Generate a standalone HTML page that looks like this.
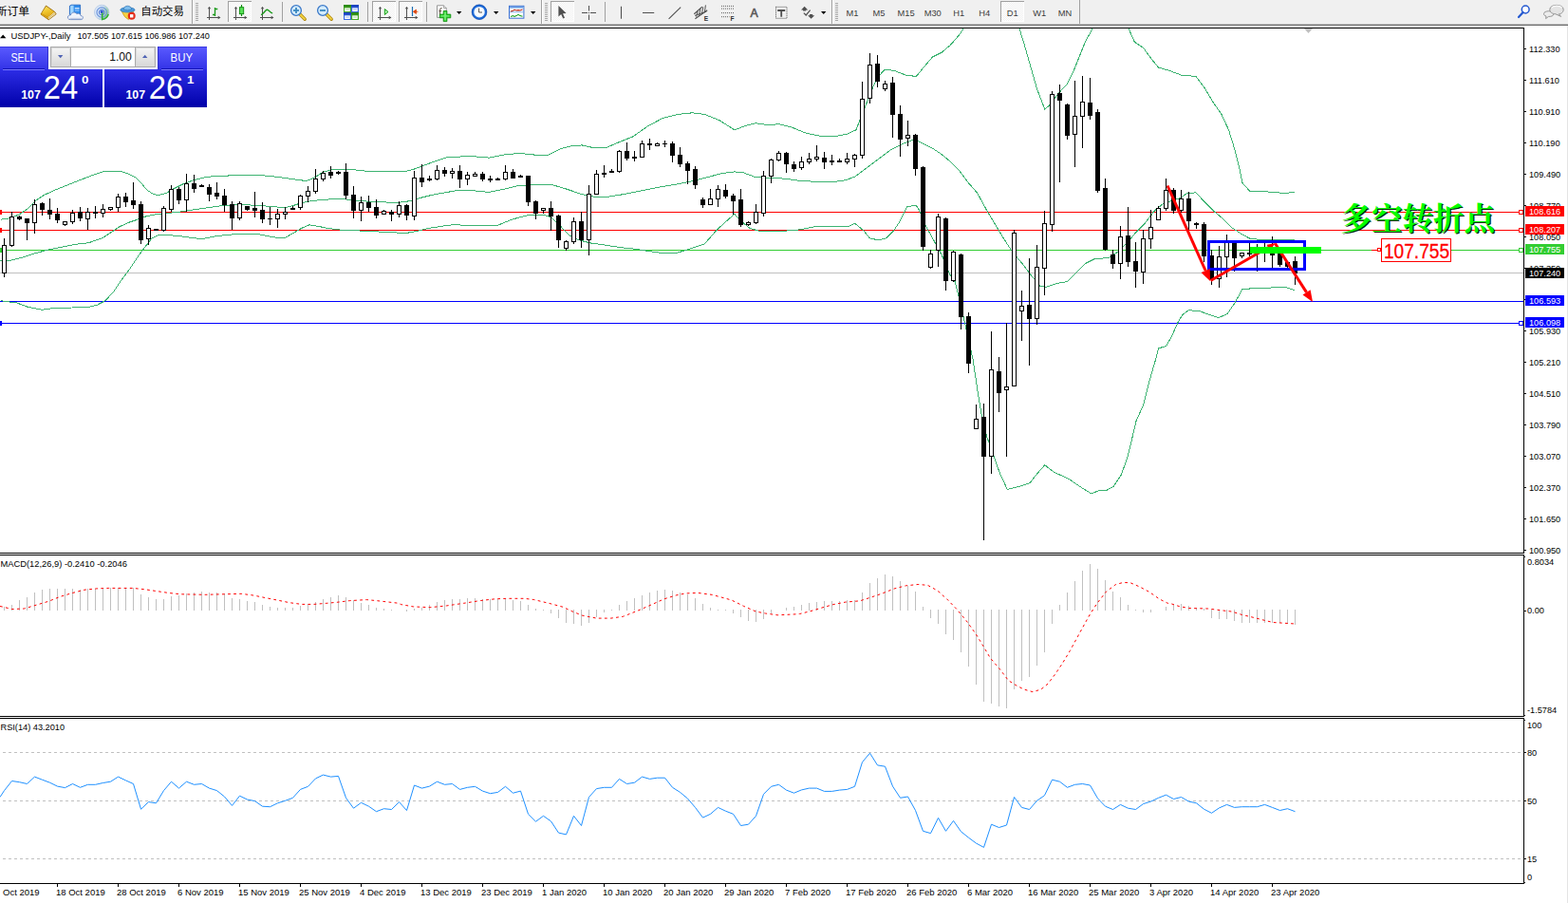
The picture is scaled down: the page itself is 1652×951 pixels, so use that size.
<!DOCTYPE html>
<html><head><meta charset="utf-8"><title>USDJPY Daily</title>
<style>
html,body{margin:0;padding:0;background:#fff;}
body{width:1652px;height:951px;overflow:hidden;font-family:"Liberation Sans",sans-serif;}
svg{display:block;position:absolute;left:0;top:0;}
text{font-family:"Liberation Sans",sans-serif;}
</style></head>
<body>
<svg width="1652" height="951" viewBox="0 0 1652 951">
<defs>
<clipPath id="cpMain"><rect x="0" y="30" width="1605" height="552"/></clipPath>
<linearGradient id="gBtn" x1="0" y1="0" x2="0" y2="1"><stop offset="0" stop-color="#5a5aff"/><stop offset="1" stop-color="#3232e6"/></linearGradient>
<linearGradient id="gPrice" x1="0" y1="0" x2="0" y2="1"><stop offset="0" stop-color="#2d2de6"/><stop offset="1" stop-color="#0000a8"/></linearGradient>
<pattern id="pChk" width="2" height="2" patternUnits="userSpaceOnUse"><rect width="2" height="2" fill="#f0f0f0"/><rect width="1" height="1" fill="#fff"/><rect x="1" y="1" width="1" height="1" fill="#fff"/></pattern>
<linearGradient id="gSpin" x1="0" y1="0" x2="0" y2="1"><stop offset="0" stop-color="#f4f4f4"/><stop offset="1" stop-color="#d8d8d8"/></linearGradient>
</defs>
<rect x="0" y="0" width="1652" height="951" fill="#fff"/>
<!-- toolbar background -->
<rect x="0" y="0" width="1652" height="25" fill="#f0f0f0"/>
<rect x="0" y="25" width="1652" height="1" fill="#bdbdbd"/>
<rect x="0" y="26" width="1652" height="1" fill="#6a6a6a"/>
<defs><linearGradient id="gBook" x1="0.2" y1="0" x2="0.6" y2="1"><stop offset="0" stop-color="#fbe468"/><stop offset="0.5" stop-color="#efc42c"/><stop offset="1" stop-color="#dca416"/></linearGradient></defs><g><path d="M48.5 6L57.6 12.4L59.2 14.8L51.2 20.8L43 15Z" fill="#c48c0c" stroke="#94660a" stroke-width="0.8" stroke-linejoin="round"/><path d="M57.2 12.8L58.7 14.8L51.3 20.2L50.4 18.2Z" fill="#f6e8b8"/><path d="M57.9 13.8L50.8 19.2" stroke="#b08828" stroke-width="0.5"/><path d="M48.6 6.7L57 12.6L50.4 17.9L43.9 14Z" fill="url(#gBook)"/><path d="M43.8 14.4L50.4 18.4L51 20.2L43.4 15.4Z" fill="#d8a21a"/></g>
<g><path d="M73.4 6.2L75.2 5.2H84.6V15.4H73.4Z" fill="#2f8cec" stroke="#1c62c0" stroke-width="0.8"/><path d="M74 6.6L75.4 5.8H77.6V15H74Z" fill="#9cd4ff"/><rect x="78.8" y="8.2" width="4.8" height="1.2" fill="#eef6ff"/><rect x="78.8" y="10.6" width="4.8" height="0.9" fill="#b4d8ff"/><path d="M74.2 20.6C71.6 20.6 70.8 18.4 71.8 17C72.4 16 73.6 15.8 74.4 16C74.8 12.8 79.2 12 80.8 14.6C82.6 13.6 85 14.6 85 16.6C87.2 16.4 88 18.6 87 19.8C86.6 20.4 85.8 20.6 85.2 20.6Z" fill="#eef3fb" stroke="#6c88c0" stroke-width="0.9"/><path d="M73.6 19.4H85.8" stroke="#c0cce4" stroke-width="1.1"/></g>
<defs><linearGradient id="gRad" x1="0" y1="0" x2="1" y2="0.4"><stop offset="0" stop-color="#e8f0fc"/><stop offset="0.55" stop-color="#cfe0f4"/><stop offset="1" stop-color="#8cd08c"/></linearGradient></defs><g fill="none"><circle cx="107.2" cy="13" r="7.7" fill="url(#gRad)" stroke="#b4c8e4" stroke-width="0.9"/><circle cx="107.2" cy="13" r="5.2" stroke="#6c94dc" stroke-width="1.2"/><circle cx="107.2" cy="13" r="2.8" stroke="#4c74d4" stroke-width="1"/><circle cx="107.2" cy="12.6" r="1.5" fill="#2448d0"/><path d="M107.7 13.4V20.6Q112.6 19.6 114.2 15" stroke="#30b030" stroke-width="1.5"/></g>
<g><path d="M128 11.4L141 11.4L135.4 20.6Q131 19 128 11.4Z" fill="#f6d244" stroke="#c49410" stroke-width="0.7"/><ellipse cx="134.4" cy="10.4" rx="7.6" ry="2.6" fill="#4c9cdc" stroke="#2c74b4" stroke-width="0.7"/><path d="M130.2 10C130.2 5 138.6 5 138.6 10Q134.4 11.6 130.2 10Z" fill="#7cbcec" stroke="#2c74b4" stroke-width="0.7"/><circle cx="138.7" cy="16.8" r="4" fill="#e42c18"/><rect x="137" y="15.1" width="3.4" height="3.4" fill="#fff"/></g>
<rect x="202" y="0" width="1" height="25" fill="#a0a0a0"/><rect x="203" y="0" width="1" height="25" fill="#fff"/>
<rect x="206" y="3" width="3" height="1" fill="#a8a8a8"/>
<rect x="206" y="5" width="3" height="1" fill="#a8a8a8"/>
<rect x="206" y="7" width="3" height="1" fill="#a8a8a8"/>
<rect x="206" y="9" width="3" height="1" fill="#a8a8a8"/>
<rect x="206" y="11" width="3" height="1" fill="#a8a8a8"/>
<rect x="206" y="13" width="3" height="1" fill="#a8a8a8"/>
<rect x="206" y="15" width="3" height="1" fill="#a8a8a8"/>
<rect x="206" y="17" width="3" height="1" fill="#a8a8a8"/>
<rect x="206" y="19" width="3" height="1" fill="#a8a8a8"/>
<rect x="206" y="21" width="3" height="1" fill="#a8a8a8"/>
<path d="M220.5 7.5V21 M218 18.5H232" stroke="#505050" stroke-width="1" fill="none"/>
<path d="M218.7 9.3L220.5 7L222.3 9.3Z M229.7 16.7L232.5 18.5L229.7 20.3Z" fill="#505050"/>
<path d="M226.5 8V17 M226.5 9.5H229.3 M224 15.5H226.5" stroke="#1a9a1a" stroke-width="1.3" fill="none"/>
<rect x="240" y="1" width="25" height="22" fill="url(#pChk)"/>
<rect x="240" y="1" width="25" height="1" fill="#a0a0a0"/><rect x="240" y="1" width="1" height="22" fill="#a0a0a0"/>
<rect x="264" y="2" width="1" height="21" fill="#fff"/><rect x="241" y="22" width="24" height="1" fill="#fff"/>
<path d="M248.5 7.5V21 M246 18.5H260" stroke="#505050" stroke-width="1" fill="none"/>
<path d="M246.7 9.3L248.5 7L250.3 9.3Z M257.7 16.7L260.5 18.5L257.7 20.3Z" fill="#505050"/>
<path d="M254.5 5V17" stroke="#0a8a0a" stroke-width="1.2"/><rect x="252.4" y="7.7" width="4.3" height="7" fill="#58e058" stroke="#0a8a0a" stroke-width="0.9"/>
<path d="M276.5 7.5V21 M274 18.5H288" stroke="#505050" stroke-width="1" fill="none"/>
<path d="M274.7 9.3L276.5 7L278.3 9.3Z M285.7 16.7L288.5 18.5L285.7 20.3Z" fill="#505050"/>
<path d="M275.2 15.8Q278.5 13 280 11Q281.3 9.6 283 11Q285.5 13.5 287.2 14" stroke="#1a9a1a" stroke-width="1.3" fill="none"/>
<rect x="297" y="2" width="1" height="21" fill="#a0a0a0"/>
<path d="M315.8 14.8L321.2 20.2" stroke="#b08810" stroke-width="3.4" stroke-linecap="round"/><path d="M316 15L321 20" stroke="#f0d040" stroke-width="1.8" stroke-linecap="round"/>
<circle cx="312" cy="11" r="5.4" fill="#d4ecfc" stroke="#3a78c8" stroke-width="1.3"/>
<path d="M309 11H315" stroke="#3a88c0" stroke-width="1.8"/>
<path d="M312 8V14" stroke="#3a88c0" stroke-width="1.8"/>
<path d="M343.8 14.8L349.2 20.2" stroke="#b08810" stroke-width="3.4" stroke-linecap="round"/><path d="M344 15L349 20" stroke="#f0d040" stroke-width="1.8" stroke-linecap="round"/>
<circle cx="340" cy="11" r="5.4" fill="#d4ecfc" stroke="#3a78c8" stroke-width="1.3"/>
<path d="M337 11H343" stroke="#3a88c0" stroke-width="1.8"/>
<rect x="362" y="5" width="8" height="8" fill="#48a828"/><rect x="362" y="5" width="8" height="2.6" fill="#2c8c14"/><rect x="363.2" y="8.4" width="5.6" height="3.6" fill="#fff"/><rect x="364.2" y="9.6" width="3.6" height="0.9" fill="#48a828" opacity="0.55"/>
<rect x="370" y="5" width="8" height="8" fill="#3868e0"/><rect x="370" y="5" width="8" height="2.6" fill="#1c44c0"/><rect x="371.2" y="8.4" width="5.6" height="3.6" fill="#fff"/><rect x="372.2" y="9.6" width="3.6" height="0.9" fill="#3868e0" opacity="0.55"/>
<rect x="362" y="13" width="8" height="8" fill="#3868e0"/><rect x="362" y="13" width="8" height="2.6" fill="#1c44c0"/><rect x="363.2" y="16.4" width="5.6" height="3.6" fill="#fff"/><rect x="364.2" y="17.6" width="3.6" height="0.9" fill="#3868e0" opacity="0.55"/>
<rect x="370" y="13" width="8" height="8" fill="#48a828"/><rect x="370" y="13" width="8" height="2.6" fill="#2c8c14"/><rect x="371.2" y="16.4" width="5.6" height="3.6" fill="#fff"/><rect x="372.2" y="17.6" width="3.6" height="0.9" fill="#48a828" opacity="0.55"/>
<rect x="387" y="2" width="1" height="21" fill="#a0a0a0"/>
<rect x="392" y="1" width="25" height="22" fill="url(#pChk)"/>
<rect x="392" y="1" width="25" height="1" fill="#a0a0a0"/><rect x="392" y="1" width="1" height="22" fill="#a0a0a0"/>
<rect x="416" y="2" width="1" height="21" fill="#fff"/><rect x="393" y="22" width="24" height="1" fill="#fff"/>
<path d="M400.5 7.5V21 M398 18.5H412" stroke="#505050" stroke-width="1" fill="none"/>
<path d="M398.7 9.3L400.5 7L402.3 9.3Z M409.7 16.7L412.5 18.5L409.7 20.3Z" fill="#505050"/>
<path d="M405.3 9.5L409 12.5L405.3 15.5Z" fill="#a8f0a8" stroke="#18a018" stroke-width="1"/>
<rect x="420" y="1" width="25" height="22" fill="url(#pChk)"/>
<rect x="420" y="1" width="25" height="1" fill="#a0a0a0"/><rect x="420" y="1" width="1" height="22" fill="#a0a0a0"/>
<rect x="444" y="2" width="1" height="21" fill="#fff"/><rect x="421" y="22" width="24" height="1" fill="#fff"/>
<path d="M428.5 7.5V21 M426 18.5H440" stroke="#505050" stroke-width="1" fill="none"/>
<path d="M426.7 9.3L428.5 7L430.3 9.3Z M437.7 16.7L440.5 18.5L437.7 20.3Z" fill="#505050"/>
<path d="M434.5 7V17" stroke="#1c6cb0" stroke-width="1.2"/><path d="M435.3 12.3L438.4 10.2V14.4Z M438 12.3H440.4" fill="#e04810" stroke="#e04810" stroke-width="0.9"/>
<rect x="449" y="2" width="1" height="21" fill="#a0a0a0"/>
<path d="M460.5 5.8H467.5L470.2 8.5V18.4H460.5Z" fill="#fff" stroke="#8c8c8c" stroke-width="0.9"/><path d="M467.5 5.8V8.5H470.2" fill="#e8e8e8" stroke="#8c8c8c" stroke-width="0.7"/><path d="M465.6 8.6Q463.6 8.2 463.6 10.4V15.6 M462.4 11.6H465.2" stroke="#504030" stroke-width="0.9" fill="none"/>
<path d="M467.2 11.5H470.9V15.1H474.8V18.8H470.9V22.6H467.2V18.8H463.3V15.1H467.2Z" fill="#28cc28" stroke="#0c8c0c" stroke-width="0.8"/><path d="M468.2 12.6H469.8V16.2H473.6V17.6H469.8V21.4H468.2V17.6H464.4V16.2H468.2Z" fill="#90f890" opacity="0.8"/>
<polygon points="481,12 486.4,12 483.7,15" fill="#000"/>
<circle cx="505" cy="12.7" r="6.9" fill="#e4f0fc" stroke="#1a68d8" stroke-width="2.2"/><circle cx="505" cy="12.7" r="4.6" fill="#fafcff"/><circle cx="505" cy="12.7" r="7.9" fill="none" stroke="#0c3c98" stroke-width="0.5"/><path d="M504.6 8.6V13H508" stroke="#404040" stroke-width="0.9" fill="none"/>
<polygon points="520,12 525.4,12 522.7,15" fill="#000"/>
<rect x="536.5" y="6.3" width="15.4" height="12.9" fill="#fff" stroke="#3a70d0" stroke-width="1"/><rect x="537" y="6.8" width="14.4" height="1.8" fill="#6ca0e8"/><rect x="537" y="12.4" width="14.4" height="0.8" fill="#6ca0e8"/><path d="M538 12L540.5 11.2L542 10.3L544 11L546 10.6L548 11L550.5 10" stroke="#b82818" stroke-width="1.1" fill="none"/><path d="M538 17.5L540.5 16.6L542 17.4L544 16.6L546 15.4L548 16.6L550.5 17.3" stroke="#18a018" stroke-width="1.1" fill="none"/>
<polygon points="559,12 564.4,12 561.7,15" fill="#000"/>
<rect x="570" y="0" width="1" height="25" fill="#a0a0a0"/><rect x="571" y="0" width="1" height="25" fill="#fff"/>
<rect x="574" y="3" width="3" height="1" fill="#a8a8a8"/>
<rect x="574" y="5" width="3" height="1" fill="#a8a8a8"/>
<rect x="574" y="7" width="3" height="1" fill="#a8a8a8"/>
<rect x="574" y="9" width="3" height="1" fill="#a8a8a8"/>
<rect x="574" y="11" width="3" height="1" fill="#a8a8a8"/>
<rect x="574" y="13" width="3" height="1" fill="#a8a8a8"/>
<rect x="574" y="15" width="3" height="1" fill="#a8a8a8"/>
<rect x="574" y="17" width="3" height="1" fill="#a8a8a8"/>
<rect x="574" y="19" width="3" height="1" fill="#a8a8a8"/>
<rect x="574" y="21" width="3" height="1" fill="#a8a8a8"/>
<rect x="580" y="1" width="25" height="22" fill="url(#pChk)"/>
<rect x="580" y="1" width="25" height="1" fill="#a0a0a0"/><rect x="580" y="1" width="1" height="22" fill="#a0a0a0"/>
<rect x="604" y="2" width="1" height="21" fill="#fff"/><rect x="581" y="22" width="24" height="1" fill="#fff"/>
<path d="M588.4 5.9V17.6L591.2 15L593.2 19.6L595 18.8L593 14.3L596.6 14.1Z" fill="#505050"/>
<path d="M613 13.5H619 M622 13.5H628 M620.5 6V11.5 M620.5 15.5V21" stroke="#505050" stroke-width="1" fill="none"/><rect x="620" y="13" width="1" height="1" fill="#505050"/>
<rect x="637" y="2" width="1" height="21" fill="#a0a0a0"/>
<path d="M654.5 6.8V19.8 M677 13.5H689.2 M704.6 19.8L717.2 7.7" stroke="#505050" stroke-width="1.1" fill="none"/>
<path d="M731.3 14.7L739.8 7.1 M732.4 19.7L745.2 10.7" stroke="#505050" stroke-width="1.2" fill="none"/><path d="M733.6 17.6L735.2 11.6 M736.4 16.4L738 9.2 M739.4 14.4L740.8 7.4 M742.4 12.8L743.4 5.4 M732 16.4L744.4 12.2" stroke="#505050" stroke-width="1" fill="none"/>
<text x="741.8" y="21.9" font-size="6.6" font-weight="bold" fill="#303030">E</text>
<path d="M760 6.4H773" stroke="#505050" stroke-width="0.9" stroke-dasharray="1,1" fill="none"/>
<path d="M760 9.1H773" stroke="#505050" stroke-width="0.9" stroke-dasharray="1,1" fill="none"/>
<path d="M760 13.6H773" stroke="#505050" stroke-width="0.9" stroke-dasharray="1,1" fill="none"/>
<path d="M760 17.7H768.5" stroke="#505050" stroke-width="0.9" stroke-dasharray="1,1" fill="none"/>
<text x="769.6" y="21.9" font-size="6.6" font-weight="bold" fill="#303030">F</text>
<text x="790.4" y="17.8" font-size="12.2" fill="#585858" stroke="#585858" stroke-width="0.6">A</text>
<rect x="817.5" y="7.3" width="11.5" height="12" fill="none" stroke="#505050" stroke-width="1" stroke-dasharray="1,1"/>
<path d="M819.2 11H827.2 M823.2 11V17.8" stroke="#505050" stroke-width="1.8" fill="none"/>
<path d="M844 10.4L847.6 6.8L851.2 10.4H849.2V11.6H846V10.4Z" fill="#505050"/><path d="M846.8 13.6L849.2 16L853.6 10.6" stroke="#505050" stroke-width="1.2" fill="none"/><path d="M851 16.2L854.6 19.8L858.2 16.2H856.2V15H853V16.2Z" fill="#505050"/>
<polygon points="865,12 870.4,12 867.7,15" fill="#000"/>
<rect x="876" y="0" width="1" height="25" fill="#a0a0a0"/><rect x="877" y="0" width="1" height="25" fill="#fff"/>
<rect x="880" y="3" width="3" height="1" fill="#a8a8a8"/>
<rect x="880" y="5" width="3" height="1" fill="#a8a8a8"/>
<rect x="880" y="7" width="3" height="1" fill="#a8a8a8"/>
<rect x="880" y="9" width="3" height="1" fill="#a8a8a8"/>
<rect x="880" y="11" width="3" height="1" fill="#a8a8a8"/>
<rect x="880" y="13" width="3" height="1" fill="#a8a8a8"/>
<rect x="880" y="15" width="3" height="1" fill="#a8a8a8"/>
<rect x="880" y="17" width="3" height="1" fill="#a8a8a8"/>
<rect x="880" y="19" width="3" height="1" fill="#a8a8a8"/>
<rect x="880" y="21" width="3" height="1" fill="#a8a8a8"/>
<rect x="1054" y="1" width="25" height="22" fill="url(#pChk)"/>
<rect x="1054" y="1" width="25" height="1" fill="#a0a0a0"/><rect x="1054" y="1" width="1" height="22" fill="#a0a0a0"/>
<rect x="1078" y="2" width="1" height="21" fill="#fff"/><rect x="1055" y="22" width="24" height="1" fill="#fff"/>
<text x="891.5" y="16.9" font-size="9.3" fill="#3c3c3c">M1</text>
<text x="919.5" y="16.9" font-size="9.3" fill="#3c3c3c">M5</text>
<text x="945.5" y="16.9" font-size="9.3" fill="#3c3c3c">M15</text>
<text x="973.7" y="16.9" font-size="9.3" fill="#3c3c3c">M30</text>
<text x="1004.3" y="16.9" font-size="9.3" fill="#3c3c3c">H1</text>
<text x="1031.3" y="16.9" font-size="9.3" fill="#3c3c3c">H4</text>
<text x="1060.8" y="16.9" font-size="9.3" fill="#3c3c3c">D1</text>
<text x="1088.2" y="16.9" font-size="9.3" fill="#3c3c3c">W1</text>
<text x="1114.8" y="16.9" font-size="9.3" fill="#3c3c3c">MN</text>
<rect x="1137" y="0" width="1" height="25" fill="#a0a0a0"/>
<circle cx="1607.2" cy="10" r="3.9" fill="#fff" stroke="#2458d0" stroke-width="1.5"/><path d="M1604.6 13L1600 18" stroke="#2458d0" stroke-width="2.2" stroke-linecap="round"/>
<path d="M1626.5 14.6C1626.5 10.8 1637 10.8 1637 14.6C1637 17 1633.6 17.6 1631.6 17.4L1628.6 19.6L1629 17C1627.4 16.6 1626.5 15.8 1626.5 14.6Z" fill="#ececec" stroke="#8c8c8c" stroke-width="0.9"/><path d="M1632.8 10C1632.8 3.8 1647.2 3.8 1647.2 10C1647.2 13.6 1644 14.8 1642.4 14.8L1644.6 17.4L1639 14.8C1635.4 14.6 1632.8 13 1632.8 10Z" fill="#e4e4e4" stroke="#8c8c8c" stroke-width="0.9"/><path d="M1635 8.4C1636 5.4 1644 5.2 1645.4 8.2" stroke="#fafafa" stroke-width="1.2" fill="none"/>
<rect x="0" y="29" width="1606" height="1" fill="#000" />
<rect x="1605" y="29" width="1" height="554" fill="#000" />
<rect x="0" y="582" width="1606" height="1" fill="#000" />
<rect x="0" y="584" width="1606" height="1" fill="#000" />
<rect x="1605" y="584" width="1" height="171" fill="#000" />
<rect x="0" y="754" width="1606" height="1" fill="#000" />
<rect x="0" y="756" width="1606" height="1" fill="#000" />
<rect x="1605" y="756" width="1" height="175" fill="#000" />
<rect x="0" y="930" width="1606" height="1" fill="#000" />
<rect x="1651" y="27" width="1" height="924" fill="#e4e4e4" />
<rect x="0" y="287" width="1605" height="1" fill="#c0c0c0" />
<rect x="0" y="223" width="1605" height="1" fill="#ff0000" />
<rect x="0" y="242" width="1605" height="1" fill="#ff0000" />
<rect x="0" y="263" width="1605" height="1" fill="#32cd32" />
<rect x="0" y="317" width="1605" height="1" fill="#0000ff" />
<rect x="0" y="340" width="1605" height="1" fill="#0000ff" />
<g clip-path="url(#cpMain)" shape-rendering="crispEdges">
<polyline points="0.5,231.3 12.1,229.5 20.8,225.5 29.6,219.7 38.3,210.9 47,205.1 58.6,199.9 73.1,194.1 87.7,188.3 99.3,183.9 108,181 116.7,180.1 125.4,180.1 134.2,182.5 142.9,186.8 148.7,192.6 154.5,199.9 160.3,203.7 166.1,205.7 174.8,203.7 183.6,198.4 192.3,194.1 203.9,189.7 215.5,186.8 227.1,185.4 247.5,184.8 276.5,184.8 291.1,186.2 305.6,188.3 323,190.6 331.7,186.8 340.5,181 349.2,179 357.9,178.1 366.6,178.1 375.3,179 386.9,180.4 407.3,180.4 427.6,180.4 436.3,178.1 448,173.7 459.6,169.4 471.2,165.6 480.5,165.2 496.3,164.5 515.2,166.1 531,163 546.7,161.4 562.5,163 578.3,163 590.9,156.6 600.3,154.1 613,152.9 625.6,155.7 638.2,155.7 650.8,150.3 666.6,144 682.3,133 698.1,124.5 713.9,120.4 729.6,118.8 742.3,120.4 758,126.7 773.8,136.8 786.4,132.1 795.9,129.8 808.5,131.4 821.1,130.8 833.7,133.9 849.5,140.3 865.3,143.4 881,143.4 893.6,140.9 900.5,137.3 901.5,137.7 910,116.8 916.3,99.5 924.2,82.1 932,73.3 941.5,74.2 954.1,79 965.2,80.5 973,71.1 982.5,60 992,55.3 1001.4,47.4 1010.9,36.4 1017.2,26.9 1026.6,9.6 1045.6,-6.2 1064.5,6.4 1074,30.1 1080.3,50.6 1086.6,72.7 1092.9,94.7 1100.8,115.2 1105.5,111.1 1115,98.5 1124.4,88.4 1130.7,75.8 1137,60 1143.3,44.3 1152.8,26.9 1162.3,12.7 1171.7,3.3 1181.2,12.7 1189.1,30.1 1195.4,44.3 1204.8,50.6 1212.7,61.6 1220.6,71.1 1231.6,74.2 1244.3,79 1260,80.5 1269.5,93.2 1278.9,108.9 1286.8,120 1294.7,137.3 1301,157.8 1305.8,176.7 1308.9,192.5 1316.8,201.3 1335.7,202 1354.6,203.5 1364.1,202" fill="none" stroke="#3cb371" stroke-width="1" />
<polyline points="0.5,274.9 12.1,274 23.7,271.1 35.4,267.3 49.9,263.2 64.4,260.3 79,257.4 93.5,255.7 108,250.7 116.7,244.9 125.4,239.1 134.2,234.8 142.9,231.9 151.6,228.4 163.2,226 174.8,224.6 189.4,223.1 203.9,220.8 218.4,218.8 232.9,216.7 247.5,215.9 262,215.9 276.5,216.7 291.1,217.9 299.8,218.8 308.5,216.7 317.2,213.8 328.8,211.5 343.4,210.1 357.9,209.5 366.6,210.1 378.2,211.5 392.8,212.4 407.3,213 421.8,213 433.4,211.5 442.1,208.6 453.8,205.7 465.4,203.4 480.5,200.8 499.4,200.8 515.2,202.4 531,199.2 546.7,195.4 562.5,194.5 581.4,194.5 597.2,199.2 613,204.6 625.6,207.1 641.3,207.1 657.1,204.6 676,200.8 695,197 713.9,193.9 729.6,190.7 745.4,186.6 761.2,182.5 773.8,180.9 783.3,181.9 795.9,186.6 811.6,187.2 827.4,188.2 843.2,190.4 858.9,191.3 874.7,192 890.5,189.8 900.5,186.2 913.1,176.7 925.7,167.3 938.3,157.8 951,151.5 963.6,146.8 973,151.5 982.5,156.2 992,162.5 1001.4,170.4 1010.9,179.9 1020.3,192.5 1029.8,203.5 1039.3,220.9 1048.7,236.6 1058.2,252.4 1067.6,266.6 1077.1,277.6 1086.6,290.3 1096,301.3 1102.3,302.2 1115,298.1 1124.4,296.6 1133.9,287.1 1143.3,277.6 1152.8,272.9 1168.6,271.3 1178,265 1187.5,255.6 1197,244.5 1206.4,235.1 1215.9,222.5 1225.3,214.6 1234.8,211.4 1244.3,208.3 1250.6,203.5 1260,202.9 1269.5,213 1278.9,222.5 1288.4,230.3 1297.9,239.8 1307.3,246.1 1316.8,251.2 1329.4,252.7 1364.1,252.7" fill="none" stroke="#3cb371" stroke-width="1" />
<polyline points="0.5,316.7 17.9,319 29.6,323.4 44.1,326.3 58.6,324.3 76,324 93.5,323.4 102.2,321.3 110.9,316.7 119.6,307.4 128.3,294.3 137.1,282.7 145.8,269.6 154.5,258 160.3,250.7 166.1,247.8 174.8,247.3 189.4,248.7 203.9,250.7 212.6,251.6 224.2,249.3 238.8,247.3 253.3,246.4 270.7,246.4 282.3,248.7 291.1,250.2 299.8,250.7 308.5,245.8 317.2,240.6 325.9,236.8 334.6,238.2 346.3,240.6 357.9,242 369.5,242 384,243.5 401.5,244.1 416,244.9 427.6,245.5 439.2,243.5 450.9,240.6 465.4,238.2 480.5,236.4 493.1,238 508.9,237.1 524.7,237.1 540.4,230.8 556.2,226.7 572,226 581.4,229.2 590.9,238.6 600.3,248.1 609.8,252.8 622.4,256 638.2,258.2 654,260.7 669.7,262.3 685.5,264.8 701.3,267 713.9,266.1 726.5,262.3 742.3,256.9 754.9,242.4 764.3,233.9 773.8,225.4 780.1,232.3 789.6,240.2 802.2,244 824.3,243.4 843.2,241.8 858.9,238.6 877.9,238.6 893.6,238.6 900.5,235.1 910,243 916.3,250.8 925.7,253 933.6,250.8 941.5,243 947.8,233.5 955.7,217.7 965.2,216.1 968.3,220.9 974.6,236.6 982.5,250.8 992,268.2 1001.4,290.3 1006.2,296.8 1012.5,322 1018.8,350.4 1025.1,378.8 1029.8,410.3 1035,441.9 1039.6,459.5 1045.6,476.6 1053.5,498.6 1061.3,515.4 1074,512.2 1085,508.7 1092.9,498.6 1100.8,489.8 1110.2,497.1 1126,504.3 1137,511.9 1149.6,519.8 1157.5,516.9 1165.4,516.6 1173.3,512.2 1181.2,500.2 1187.5,482.9 1192.2,464 1197,443.5 1204.8,426.1 1211.1,400.9 1217.5,378.8 1220.6,366.8 1228.5,364.6 1234.8,353.6 1241.1,339.4 1245.8,331.5 1252.1,326.8 1263.2,327.4 1274.2,331.5 1283.7,334.7 1293.1,330.6 1301,318.9 1308.9,304.7 1319.9,303.7 1335.7,303.1 1354.6,302.5 1364.1,305.6" fill="none" stroke="#3cb371" stroke-width="1" />
</g>
<g shape-rendering="crispEdges"><rect x="4" y="251" width="1" height="41" fill="#000" /><rect x="2" y="258" width="5" height="30" fill="#000" /><rect x="3" y="259" width="3" height="28" fill="#fff" /><rect x="12" y="223" width="1" height="37" fill="#000" /><rect x="10" y="228" width="5" height="31" fill="#000" /><rect x="11" y="229" width="3" height="29" fill="#fff" /><rect x="20" y="227" width="1" height="5" fill="#000" /><rect x="18" y="228" width="5" height="3" fill="#000" /><rect x="28" y="230" width="1" height="23" fill="#000" /><rect x="26" y="230" width="5" height="5" fill="#000" /><rect x="36" y="210" width="1" height="36" fill="#000" /><rect x="34" y="215" width="5" height="20" fill="#000" /><rect x="35" y="216" width="3" height="18" fill="#fff" /><rect x="44" y="213" width="1" height="14" fill="#000" /><rect x="42" y="214" width="5" height="7" fill="#000" /><rect x="52" y="209" width="1" height="22" fill="#000" /><rect x="50" y="221" width="5" height="5" fill="#000" /><rect x="60" y="219" width="1" height="16" fill="#000" /><rect x="58" y="225" width="5" height="7" fill="#000" /><rect x="68" y="233" width="1" height="5" fill="#000" /><rect x="66" y="233" width="5" height="4" fill="#000" /><rect x="67" y="234" width="3" height="2" fill="#fff" /><rect x="76" y="221" width="1" height="15" fill="#000" /><rect x="74" y="224" width="5" height="10" fill="#000" /><rect x="75" y="225" width="3" height="8" fill="#fff" /><rect x="84" y="218" width="1" height="15" fill="#000" /><rect x="82" y="223" width="5" height="7" fill="#000" /><rect x="92" y="219" width="1" height="23" fill="#000" /><rect x="90" y="223" width="5" height="8" fill="#000" /><rect x="91" y="224" width="3" height="6" fill="#fff" /><rect x="100" y="217" width="1" height="13" fill="#000" /><rect x="98" y="223" width="5" height="2" fill="#000" /><rect x="108" y="215" width="1" height="14" fill="#000" /><rect x="106" y="220" width="5" height="5" fill="#000" /><rect x="107" y="221" width="3" height="3" fill="#fff" /><rect x="116" y="218" width="1" height="4" fill="#000" /><rect x="114" y="218" width="5" height="3" fill="#000" /><rect x="115" y="219" width="3" height="1" fill="#fff" /><rect x="124" y="204" width="1" height="19" fill="#000" /><rect x="122" y="207" width="5" height="12" fill="#000" /><rect x="123" y="208" width="3" height="10" fill="#fff" /><rect x="132" y="203" width="1" height="15" fill="#000" /><rect x="130" y="207" width="5" height="6" fill="#000" /><rect x="140" y="192" width="1" height="28" fill="#000" /><rect x="138" y="211" width="5" height="5" fill="#000" /><rect x="148" y="212" width="1" height="45" fill="#000" /><rect x="146" y="215" width="5" height="38" fill="#000" /><rect x="156" y="237" width="1" height="21" fill="#000" /><rect x="154" y="240" width="5" height="12" fill="#000" /><rect x="155" y="241" width="3" height="10" fill="#fff" /><rect x="164" y="241" width="1" height="2" fill="#000" /><rect x="162" y="241" width="5" height="2" fill="#000" /><rect x="172" y="217" width="1" height="27" fill="#000" /><rect x="170" y="219" width="5" height="24" fill="#000" /><rect x="171" y="220" width="3" height="22" fill="#fff" /><rect x="180" y="195" width="1" height="28" fill="#000" /><rect x="178" y="199" width="5" height="22" fill="#000" /><rect x="179" y="200" width="3" height="20" fill="#fff" /><rect x="188" y="197" width="1" height="18" fill="#000" /><rect x="186" y="199" width="5" height="12" fill="#000" /><rect x="196" y="183" width="1" height="40" fill="#000" /><rect x="194" y="193" width="5" height="18" fill="#000" /><rect x="195" y="194" width="3" height="16" fill="#fff" /><rect x="204" y="184" width="1" height="19" fill="#000" /><rect x="202" y="193" width="5" height="6" fill="#000" /><rect x="212" y="194" width="1" height="3" fill="#000" /><rect x="210" y="195" width="5" height="2" fill="#000" /><rect x="220" y="194" width="1" height="18" fill="#000" /><rect x="218" y="197" width="5" height="8" fill="#000" /><rect x="228" y="192" width="1" height="18" fill="#000" /><rect x="226" y="203" width="5" height="4" fill="#000" /><rect x="236" y="199" width="1" height="24" fill="#000" /><rect x="234" y="206" width="5" height="10" fill="#000" /><rect x="244" y="212" width="1" height="30" fill="#000" /><rect x="242" y="215" width="5" height="15" fill="#000" /><rect x="252" y="212" width="1" height="20" fill="#000" /><rect x="250" y="214" width="5" height="16" fill="#000" /><rect x="251" y="215" width="3" height="14" fill="#fff" /><rect x="260" y="217" width="1" height="5" fill="#000" /><rect x="258" y="217" width="5" height="4" fill="#000" /><rect x="268" y="202" width="1" height="27" fill="#000" /><rect x="266" y="219" width="5" height="3" fill="#000" /><rect x="276" y="213" width="1" height="22" fill="#000" /><rect x="274" y="221" width="5" height="10" fill="#000" /><rect x="284" y="218" width="1" height="19" fill="#000" /><rect x="282" y="230" width="5" height="1" fill="#000" /><rect x="292" y="220" width="1" height="20" fill="#000" /><rect x="290" y="225" width="5" height="6" fill="#000" /><rect x="291" y="226" width="3" height="4" fill="#fff" /><rect x="300" y="218" width="1" height="13" fill="#000" /><rect x="298" y="223" width="5" height="3" fill="#000" /><rect x="299" y="224" width="3" height="1" fill="#fff" /><rect x="308" y="217" width="1" height="4" fill="#000" /><rect x="306" y="219" width="5" height="2" fill="#000" /><rect x="316" y="205" width="1" height="16" fill="#000" /><rect x="314" y="206" width="5" height="13" fill="#000" /><rect x="315" y="207" width="3" height="11" fill="#fff" /><rect x="324" y="196" width="1" height="17" fill="#000" /><rect x="322" y="201" width="5" height="6" fill="#000" /><rect x="323" y="202" width="3" height="4" fill="#fff" /><rect x="332" y="178" width="1" height="26" fill="#000" /><rect x="330" y="188" width="5" height="14" fill="#000" /><rect x="331" y="189" width="3" height="12" fill="#fff" /><rect x="340" y="180" width="1" height="11" fill="#000" /><rect x="338" y="182" width="5" height="7" fill="#000" /><rect x="339" y="183" width="3" height="5" fill="#fff" /><rect x="348" y="175" width="1" height="13" fill="#000" /><rect x="346" y="181" width="5" height="4" fill="#000" /><rect x="356" y="180" width="1" height="4" fill="#000" /><rect x="354" y="181" width="5" height="2" fill="#000" /><rect x="364" y="172" width="1" height="38" fill="#000" /><rect x="362" y="181" width="5" height="25" fill="#000" /><rect x="372" y="196" width="1" height="34" fill="#000" /><rect x="370" y="205" width="5" height="17" fill="#000" /><rect x="380" y="207" width="1" height="26" fill="#000" /><rect x="378" y="213" width="5" height="9" fill="#000" /><rect x="379" y="214" width="3" height="7" fill="#fff" /><rect x="388" y="206" width="1" height="17" fill="#000" /><rect x="386" y="213" width="5" height="6" fill="#000" /><rect x="396" y="210" width="1" height="20" fill="#000" /><rect x="394" y="218" width="5" height="9" fill="#000" /><rect x="404" y="221" width="1" height="5" fill="#000" /><rect x="402" y="222" width="5" height="4" fill="#000" /><rect x="403" y="223" width="3" height="2" fill="#fff" /><rect x="412" y="221" width="1" height="12" fill="#000" /><rect x="410" y="223" width="5" height="3" fill="#000" /><rect x="420" y="212" width="1" height="17" fill="#000" /><rect x="418" y="216" width="5" height="10" fill="#000" /><rect x="419" y="217" width="3" height="8" fill="#fff" /><rect x="428" y="215" width="1" height="17" fill="#000" /><rect x="426" y="216" width="5" height="11" fill="#000" /><rect x="436" y="180" width="1" height="52" fill="#000" /><rect x="434" y="187" width="5" height="41" fill="#000" /><rect x="435" y="188" width="3" height="39" fill="#fff" /><rect x="444" y="173" width="1" height="24" fill="#000" /><rect x="442" y="187" width="5" height="5" fill="#000" /><rect x="452" y="185" width="1" height="6" fill="#000" /><rect x="450" y="188" width="5" height="2" fill="#000" /><rect x="460" y="174" width="1" height="16" fill="#000" /><rect x="458" y="179" width="5" height="10" fill="#000" /><rect x="459" y="180" width="3" height="8" fill="#fff" /><rect x="468" y="176" width="1" height="10" fill="#000" /><rect x="466" y="179" width="5" height="4" fill="#000" /><rect x="476" y="177" width="1" height="11" fill="#000" /><rect x="474" y="180" width="5" height="3" fill="#000" /><rect x="475" y="181" width="3" height="1" fill="#fff" /><rect x="484" y="174" width="1" height="24" fill="#000" /><rect x="482" y="180" width="5" height="9" fill="#000" /><rect x="492" y="181" width="1" height="14" fill="#000" /><rect x="490" y="184" width="5" height="5" fill="#000" /><rect x="491" y="185" width="3" height="3" fill="#fff" /><rect x="500" y="181" width="1" height="5" fill="#000" /><rect x="498" y="183" width="5" height="3" fill="#000" /><rect x="499" y="184" width="3" height="1" fill="#fff" /><rect x="508" y="181" width="1" height="10" fill="#000" /><rect x="506" y="183" width="5" height="6" fill="#000" /><rect x="516" y="185" width="1" height="7" fill="#000" /><rect x="514" y="188" width="5" height="2" fill="#000" /><rect x="524" y="187" width="1" height="3" fill="#000" /><rect x="522" y="188" width="5" height="2" fill="#000" /><rect x="532" y="174" width="1" height="16" fill="#000" /><rect x="530" y="181" width="5" height="8" fill="#000" /><rect x="531" y="182" width="3" height="6" fill="#fff" /><rect x="540" y="178" width="1" height="10" fill="#000" /><rect x="538" y="181" width="5" height="7" fill="#000" /><rect x="548" y="184" width="1" height="3" fill="#000" /><rect x="546" y="185" width="5" height="2" fill="#000" /><rect x="556" y="185" width="1" height="32" fill="#000" /><rect x="554" y="185" width="5" height="28" fill="#000" /><rect x="564" y="211" width="1" height="20" fill="#000" /><rect x="562" y="212" width="5" height="13" fill="#000" /><rect x="572" y="219" width="1" height="6" fill="#000" /><rect x="570" y="219" width="5" height="3" fill="#000" /><rect x="571" y="220" width="3" height="1" fill="#fff" /><rect x="580" y="212" width="1" height="31" fill="#000" /><rect x="578" y="219" width="5" height="9" fill="#000" /><rect x="588" y="226" width="1" height="35" fill="#000" /><rect x="586" y="227" width="5" height="26" fill="#000" /><rect x="596" y="253" width="1" height="11" fill="#000" /><rect x="594" y="254" width="5" height="8" fill="#000" /><rect x="595" y="255" width="3" height="6" fill="#fff" /><rect x="604" y="229" width="1" height="28" fill="#000" /><rect x="602" y="233" width="5" height="22" fill="#000" /><rect x="603" y="234" width="3" height="20" fill="#fff" /><rect x="612" y="223" width="1" height="38" fill="#000" /><rect x="610" y="233" width="5" height="20" fill="#000" /><rect x="620" y="195" width="1" height="74" fill="#000" /><rect x="618" y="204" width="5" height="49" fill="#000" /><rect x="619" y="205" width="3" height="47" fill="#fff" /><rect x="628" y="179" width="1" height="26" fill="#000" /><rect x="626" y="183" width="5" height="22" fill="#000" /><rect x="627" y="184" width="3" height="20" fill="#fff" /><rect x="636" y="174" width="1" height="13" fill="#000" /><rect x="634" y="182" width="5" height="2" fill="#000" /><rect x="644" y="178" width="1" height="4" fill="#000" /><rect x="642" y="180" width="5" height="2" fill="#000" /><rect x="652" y="158" width="1" height="24" fill="#000" /><rect x="650" y="159" width="5" height="22" fill="#000" /><rect x="651" y="160" width="3" height="20" fill="#fff" /><rect x="660" y="150" width="1" height="19" fill="#000" /><rect x="658" y="159" width="5" height="8" fill="#000" /><rect x="668" y="159" width="1" height="11" fill="#000" /><rect x="666" y="165" width="5" height="2" fill="#000" /><rect x="676" y="148" width="1" height="18" fill="#000" /><rect x="674" y="151" width="5" height="15" fill="#000" /><rect x="675" y="152" width="3" height="13" fill="#fff" /><rect x="684" y="146" width="1" height="12" fill="#000" /><rect x="682" y="151" width="5" height="2" fill="#000" /><rect x="692" y="150" width="1" height="4" fill="#000" /><rect x="690" y="151" width="5" height="3" fill="#000" /><rect x="691" y="152" width="3" height="1" fill="#fff" /><rect x="700" y="148" width="1" height="7" fill="#000" /><rect x="698" y="151" width="5" height="1" fill="#000" /><rect x="708" y="149" width="1" height="22" fill="#000" /><rect x="706" y="151" width="5" height="13" fill="#000" /><rect x="716" y="155" width="1" height="21" fill="#000" /><rect x="714" y="163" width="5" height="10" fill="#000" /><rect x="724" y="170" width="1" height="24" fill="#000" /><rect x="722" y="172" width="5" height="8" fill="#000" /><rect x="732" y="175" width="1" height="24" fill="#000" /><rect x="730" y="178" width="5" height="17" fill="#000" /><rect x="740" y="208" width="1" height="11" fill="#000" /><rect x="738" y="210" width="5" height="6" fill="#000" /><rect x="748" y="199" width="1" height="17" fill="#000" /><rect x="746" y="209" width="5" height="7" fill="#000" /><rect x="747" y="210" width="3" height="5" fill="#fff" /><rect x="756" y="195" width="1" height="23" fill="#000" /><rect x="754" y="199" width="5" height="11" fill="#000" /><rect x="755" y="200" width="3" height="9" fill="#fff" /><rect x="764" y="194" width="1" height="15" fill="#000" /><rect x="762" y="200" width="5" height="7" fill="#000" /><rect x="772" y="204" width="1" height="22" fill="#000" /><rect x="770" y="206" width="5" height="6" fill="#000" /><rect x="780" y="199" width="1" height="40" fill="#000" /><rect x="778" y="210" width="5" height="27" fill="#000" /><rect x="788" y="233" width="1" height="5" fill="#000" /><rect x="786" y="234" width="5" height="3" fill="#000" /><rect x="787" y="235" width="3" height="1" fill="#fff" /><rect x="796" y="215" width="1" height="21" fill="#000" /><rect x="794" y="223" width="5" height="12" fill="#000" /><rect x="795" y="224" width="3" height="10" fill="#fff" /><rect x="804" y="180" width="1" height="48" fill="#000" /><rect x="802" y="185" width="5" height="40" fill="#000" /><rect x="803" y="186" width="3" height="38" fill="#fff" /><rect x="812" y="167" width="1" height="26" fill="#000" /><rect x="810" y="168" width="5" height="18" fill="#000" /><rect x="811" y="169" width="3" height="16" fill="#fff" /><rect x="820" y="159" width="1" height="11" fill="#000" /><rect x="818" y="161" width="5" height="8" fill="#000" /><rect x="819" y="162" width="3" height="6" fill="#fff" /><rect x="828" y="160" width="1" height="22" fill="#000" /><rect x="826" y="161" width="5" height="12" fill="#000" /><rect x="836" y="170" width="1" height="11" fill="#000" /><rect x="834" y="173" width="5" height="5" fill="#000" /><rect x="844" y="165" width="1" height="14" fill="#000" /><rect x="842" y="170" width="5" height="7" fill="#000" /><rect x="843" y="171" width="3" height="5" fill="#fff" /><rect x="852" y="161" width="1" height="12" fill="#000" /><rect x="850" y="167" width="5" height="4" fill="#000" /><rect x="851" y="168" width="3" height="2" fill="#fff" /><rect x="860" y="153" width="1" height="17" fill="#000" /><rect x="858" y="165" width="5" height="3" fill="#000" /><rect x="859" y="166" width="3" height="1" fill="#fff" /><rect x="868" y="160" width="1" height="18" fill="#000" /><rect x="866" y="166" width="5" height="5" fill="#000" /><rect x="876" y="163" width="1" height="11" fill="#000" /><rect x="874" y="169" width="5" height="2" fill="#000" /><rect x="884" y="167" width="1" height="4" fill="#000" /><rect x="882" y="169" width="5" height="2" fill="#000" /><rect x="892" y="161" width="1" height="12" fill="#000" /><rect x="890" y="167" width="5" height="4" fill="#000" /><rect x="891" y="168" width="3" height="2" fill="#fff" /><rect x="900" y="162" width="1" height="14" fill="#000" /><rect x="898" y="163" width="5" height="5" fill="#000" /><rect x="899" y="164" width="3" height="3" fill="#fff" /><rect x="908" y="86" width="1" height="81" fill="#000" /><rect x="906" y="104" width="5" height="60" fill="#000" /><rect x="907" y="105" width="3" height="58" fill="#fff" /><rect x="916" y="56" width="1" height="53" fill="#000" /><rect x="914" y="68" width="5" height="36" fill="#000" /><rect x="915" y="69" width="3" height="34" fill="#fff" /><rect x="924" y="58" width="1" height="34" fill="#000" /><rect x="922" y="67" width="5" height="19" fill="#000" /><rect x="932" y="85" width="1" height="11" fill="#000" /><rect x="930" y="88" width="5" height="6" fill="#000" /><rect x="931" y="89" width="3" height="4" fill="#fff" /><rect x="940" y="81" width="1" height="64" fill="#000" /><rect x="938" y="87" width="5" height="34" fill="#000" /><rect x="948" y="111" width="1" height="54" fill="#000" /><rect x="946" y="120" width="5" height="27" fill="#000" /><rect x="956" y="127" width="1" height="27" fill="#000" /><rect x="954" y="142" width="5" height="4" fill="#000" /><rect x="955" y="143" width="3" height="2" fill="#fff" /><rect x="964" y="141" width="1" height="44" fill="#000" /><rect x="962" y="142" width="5" height="36" fill="#000" /><rect x="972" y="175" width="1" height="89" fill="#000" /><rect x="970" y="176" width="5" height="84" fill="#000" /><rect x="980" y="263" width="1" height="20" fill="#000" /><rect x="978" y="267" width="5" height="15" fill="#000" /><rect x="979" y="268" width="3" height="13" fill="#fff" /><rect x="988" y="225" width="1" height="56" fill="#000" /><rect x="986" y="228" width="5" height="36" fill="#000" /><rect x="987" y="229" width="3" height="34" fill="#fff" /><rect x="996" y="229" width="1" height="77" fill="#000" /><rect x="994" y="230" width="5" height="66" fill="#000" /><rect x="1004" y="264" width="1" height="33" fill="#000" /><rect x="1002" y="265" width="5" height="31" fill="#000" /><rect x="1003" y="266" width="3" height="29" fill="#fff" /><rect x="1012" y="267" width="1" height="80" fill="#000" /><rect x="1010" y="268" width="5" height="66" fill="#000" /><rect x="1020" y="329" width="1" height="64" fill="#000" /><rect x="1018" y="333" width="5" height="50" fill="#000" /><rect x="1028" y="426" width="1" height="26" fill="#000" /><rect x="1026" y="441" width="5" height="11" fill="#000" /><rect x="1027" y="442" width="3" height="9" fill="#fff" /><rect x="1036" y="425" width="1" height="144" fill="#000" /><rect x="1034" y="439" width="5" height="42" fill="#000" /><rect x="1044" y="349" width="1" height="150" fill="#000" /><rect x="1042" y="389" width="5" height="92" fill="#000" /><rect x="1043" y="390" width="3" height="90" fill="#fff" /><rect x="1052" y="376" width="1" height="58" fill="#000" /><rect x="1050" y="391" width="5" height="23" fill="#000" /><rect x="1060" y="340" width="1" height="141" fill="#000" /><rect x="1058" y="407" width="5" height="4" fill="#000" /><rect x="1059" y="408" width="3" height="2" fill="#fff" /><rect x="1068" y="242" width="1" height="165" fill="#000" /><rect x="1066" y="245" width="5" height="162" fill="#000" /><rect x="1067" y="246" width="3" height="160" fill="#fff" /><rect x="1076" y="306" width="1" height="53" fill="#000" /><rect x="1074" y="322" width="5" height="6" fill="#000" /><rect x="1075" y="323" width="3" height="4" fill="#fff" /><rect x="1084" y="272" width="1" height="113" fill="#000" /><rect x="1082" y="321" width="5" height="15" fill="#000" /><rect x="1092" y="258" width="1" height="84" fill="#000" /><rect x="1090" y="281" width="5" height="55" fill="#000" /><rect x="1091" y="282" width="3" height="53" fill="#fff" /><rect x="1100" y="222" width="1" height="89" fill="#000" /><rect x="1098" y="235" width="5" height="48" fill="#000" /><rect x="1099" y="236" width="3" height="46" fill="#fff" /><rect x="1108" y="96" width="1" height="148" fill="#000" /><rect x="1106" y="99" width="5" height="138" fill="#000" /><rect x="1107" y="100" width="3" height="136" fill="#fff" /><rect x="1116" y="89" width="1" height="103" fill="#000" /><rect x="1114" y="98" width="5" height="8" fill="#000" /><rect x="1124" y="109" width="1" height="38" fill="#000" /><rect x="1122" y="110" width="5" height="33" fill="#000" /><rect x="1132" y="85" width="1" height="91" fill="#000" /><rect x="1130" y="122" width="5" height="20" fill="#000" /><rect x="1131" y="123" width="3" height="18" fill="#fff" /><rect x="1140" y="80" width="1" height="76" fill="#000" /><rect x="1138" y="107" width="5" height="16" fill="#000" /><rect x="1139" y="108" width="3" height="14" fill="#fff" /><rect x="1148" y="82" width="1" height="44" fill="#000" /><rect x="1146" y="108" width="5" height="14" fill="#000" /><rect x="1156" y="115" width="1" height="88" fill="#000" /><rect x="1154" y="118" width="5" height="83" fill="#000" /><rect x="1164" y="188" width="1" height="76" fill="#000" /><rect x="1162" y="198" width="5" height="65" fill="#000" /><rect x="1172" y="263" width="1" height="20" fill="#000" /><rect x="1170" y="268" width="5" height="10" fill="#000" /><rect x="1180" y="238" width="1" height="56" fill="#000" /><rect x="1178" y="249" width="5" height="29" fill="#000" /><rect x="1179" y="250" width="3" height="27" fill="#fff" /><rect x="1188" y="218" width="1" height="63" fill="#000" /><rect x="1186" y="248" width="5" height="28" fill="#000" /><rect x="1196" y="255" width="1" height="48" fill="#000" /><rect x="1194" y="275" width="5" height="11" fill="#000" /><rect x="1204" y="242" width="1" height="57" fill="#000" /><rect x="1202" y="251" width="5" height="36" fill="#000" /><rect x="1203" y="252" width="3" height="34" fill="#fff" /><rect x="1212" y="221" width="1" height="41" fill="#000" /><rect x="1210" y="239" width="5" height="13" fill="#000" /><rect x="1211" y="240" width="3" height="11" fill="#fff" /><rect x="1220" y="217" width="1" height="15" fill="#000" /><rect x="1218" y="219" width="5" height="13" fill="#000" /><rect x="1219" y="220" width="3" height="11" fill="#fff" /><rect x="1228" y="188" width="1" height="34" fill="#000" /><rect x="1226" y="200" width="5" height="20" fill="#000" /><rect x="1227" y="201" width="3" height="18" fill="#fff" /><rect x="1236" y="198" width="1" height="27" fill="#000" /><rect x="1234" y="200" width="5" height="22" fill="#000" /><rect x="1244" y="200" width="1" height="24" fill="#000" /><rect x="1242" y="209" width="5" height="13" fill="#000" /><rect x="1243" y="210" width="3" height="11" fill="#fff" /><rect x="1252" y="202" width="1" height="40" fill="#000" /><rect x="1250" y="209" width="5" height="24" fill="#000" /><rect x="1260" y="234" width="1" height="7" fill="#000" /><rect x="1258" y="235" width="5" height="2" fill="#000" /><rect x="1268" y="234" width="1" height="42" fill="#000" /><rect x="1266" y="236" width="5" height="34" fill="#000" /><rect x="1276" y="263" width="1" height="37" fill="#000" /><rect x="1274" y="269" width="5" height="26" fill="#000" /><rect x="1284" y="259" width="1" height="44" fill="#000" /><rect x="1282" y="270" width="5" height="24" fill="#000" /><rect x="1283" y="271" width="3" height="22" fill="#fff" /><rect x="1292" y="247" width="1" height="45" fill="#000" /><rect x="1290" y="254" width="5" height="17" fill="#000" /><rect x="1291" y="255" width="3" height="15" fill="#fff" /><rect x="1300" y="254" width="1" height="32" fill="#000" /><rect x="1298" y="255" width="5" height="17" fill="#000" /><rect x="1308" y="266" width="1" height="6" fill="#000" /><rect x="1306" y="266" width="5" height="4" fill="#000" /><rect x="1307" y="267" width="3" height="2" fill="#fff" /><rect x="1316" y="255" width="1" height="15" fill="#000" /><rect x="1314" y="266" width="5" height="2" fill="#000" /><rect x="1324" y="257" width="1" height="29" fill="#000" /><rect x="1322" y="264" width="5" height="2" fill="#000" /><rect x="1332" y="255" width="1" height="21" fill="#000" /><rect x="1330" y="262" width="5" height="4" fill="#000" /><rect x="1340" y="249" width="1" height="33" fill="#000" /><rect x="1338" y="263" width="5" height="6" fill="#000" /><rect x="1348" y="266" width="1" height="15" fill="#000" /><rect x="1346" y="267" width="5" height="12" fill="#000" /><rect x="1356" y="275" width="1" height="7" fill="#000" /><rect x="1354" y="276" width="5" height="5" fill="#000" /><rect x="1364" y="270" width="1" height="30" fill="#000" /><rect x="1362" y="275" width="5" height="13" fill="#000" /></g>
<rect x="1273.5" y="254.5" width="101" height="29" fill="none" stroke="#0000ff" stroke-width="3"/>
<line x1="1230" y1="195.5" x2="1270.1" y2="285" stroke="#ff0000" stroke-width="3"/><polygon points="1275,296 1265.5,287.1 1274.7,283" fill="#ff0000"/>
<line x1="1275.5" y1="295.5" x2="1336.2" y2="260.5" stroke="#ff0000" stroke-width="3"/><polygon points="1344,256 1337.8,263.3 1334.6,257.7" fill="#ff0000"/>
<line x1="1343.5" y1="256.5" x2="1376.5" y2="307.9" stroke="#ff0000" stroke-width="3"/><polygon points="1383,318 1372.5,310.5 1380.6,305.3" fill="#ff0000"/>
<rect x="1317" y="260" width="75" height="7" fill="#00ff00" />
<rect x="1600.5" y="221.5" width="4" height="4" fill="#fff" stroke="#ff0000" stroke-width="1"/>
<rect x="0" y="221" width="2" height="5" fill="#ff0000" />
<rect x="1600.5" y="240.5" width="4" height="4" fill="#fff" stroke="#ff0000" stroke-width="1"/>
<rect x="0" y="240" width="2" height="5" fill="#ff0000" />
<rect x="1600.5" y="261.5" width="4" height="4" fill="#fff" stroke="#32cd32" stroke-width="1"/>
<rect x="0" y="261" width="2" height="5" fill="#32cd32" />
<rect x="1600.5" y="338.5" width="4" height="4" fill="#fff" stroke="#0000ff" stroke-width="1"/>
<rect x="0" y="338" width="2" height="5" fill="#0000ff" />
<rect x="1445" y="263" width="7" height="1" fill="#ff0000" />
<rect x="1451.5" y="261.5" width="3" height="3" fill="#fff" stroke="#ff0000"/>
<rect x="1455.5" y="251.5" width="73" height="24" fill="#fff" stroke="#ff0000"/>
<text x="1458" y="272" font-family="Liberation Sans, sans-serif" font-size="21.3" fill="#ff0000" stroke="#ff0000" stroke-width="0.3" textLength="69" lengthAdjust="spacingAndGlyphs">107.755</text>
<rect x="1606" y="51" width="2" height="1" fill="#000" />
<text x="1611" y="54.9" font-family="Liberation Sans, sans-serif" font-size="9.2" fill="#000">112.330</text>
<rect x="1606" y="84" width="2" height="1" fill="#000" />
<text x="1611" y="87.9" font-family="Liberation Sans, sans-serif" font-size="9.2" fill="#000">111.610</text>
<rect x="1606" y="117" width="2" height="1" fill="#000" />
<text x="1611" y="120.9" font-family="Liberation Sans, sans-serif" font-size="9.2" fill="#000">110.910</text>
<rect x="1606" y="150" width="2" height="1" fill="#000" />
<text x="1611" y="153.9" font-family="Liberation Sans, sans-serif" font-size="9.2" fill="#000">110.190</text>
<rect x="1606" y="183" width="2" height="1" fill="#000" />
<text x="1611" y="186.9" font-family="Liberation Sans, sans-serif" font-size="9.2" fill="#000">109.490</text>
<rect x="1606" y="216" width="2" height="1" fill="#000" />
<text x="1611" y="219.9" font-family="Liberation Sans, sans-serif" font-size="9.2" fill="#000">108.770</text>
<rect x="1606" y="249" width="2" height="1" fill="#000" />
<text x="1611" y="252.9" font-family="Liberation Sans, sans-serif" font-size="9.2" fill="#000">108.050</text>
<rect x="1606" y="282" width="2" height="1" fill="#000" />
<text x="1611" y="285.9" font-family="Liberation Sans, sans-serif" font-size="9.2" fill="#000">107.350</text>
<rect x="1606" y="315" width="2" height="1" fill="#000" />
<text x="1611" y="318.9" font-family="Liberation Sans, sans-serif" font-size="9.2" fill="#000">106.630</text>
<rect x="1606" y="348" width="2" height="1" fill="#000" />
<text x="1611" y="351.9" font-family="Liberation Sans, sans-serif" font-size="9.2" fill="#000">105.930</text>
<rect x="1606" y="381" width="2" height="1" fill="#000" />
<text x="1611" y="384.9" font-family="Liberation Sans, sans-serif" font-size="9.2" fill="#000">105.210</text>
<rect x="1606" y="414" width="2" height="1" fill="#000" />
<text x="1611" y="417.9" font-family="Liberation Sans, sans-serif" font-size="9.2" fill="#000">104.510</text>
<rect x="1606" y="447" width="2" height="1" fill="#000" />
<text x="1611" y="450.9" font-family="Liberation Sans, sans-serif" font-size="9.2" fill="#000">103.790</text>
<rect x="1606" y="480" width="2" height="1" fill="#000" />
<text x="1611" y="483.9" font-family="Liberation Sans, sans-serif" font-size="9.2" fill="#000">103.070</text>
<rect x="1606" y="513" width="2" height="1" fill="#000" />
<text x="1611" y="516.9" font-family="Liberation Sans, sans-serif" font-size="9.2" fill="#000">102.370</text>
<rect x="1606" y="546" width="2" height="1" fill="#000" />
<text x="1611" y="549.9" font-family="Liberation Sans, sans-serif" font-size="9.2" fill="#000">101.650</text>
<rect x="1606" y="579" width="2" height="1" fill="#000" />
<text x="1611" y="582.9" font-family="Liberation Sans, sans-serif" font-size="9.2" fill="#000">100.950</text>
<rect x="1607" y="217" width="41" height="11" fill="#ff0000" /><text x="1611" y="226.4" font-family="Liberation Sans, sans-serif" font-size="9.2" fill="#fff">108.616</text>
<rect x="1607" y="236" width="41" height="11" fill="#ff0000" /><text x="1611" y="245.4" font-family="Liberation Sans, sans-serif" font-size="9.2" fill="#fff">108.207</text>
<rect x="1607" y="257" width="41" height="11" fill="#32cd32" /><text x="1611" y="266.4" font-family="Liberation Sans, sans-serif" font-size="9.2" fill="#fff">107.755</text>
<rect x="1607" y="282" width="41" height="11" fill="#000" /><text x="1611" y="291.4" font-family="Liberation Sans, sans-serif" font-size="9.2" fill="#fff">107.240</text>
<rect x="1607" y="311" width="41" height="11" fill="#0000ff" /><text x="1611" y="320.4" font-family="Liberation Sans, sans-serif" font-size="9.2" fill="#fff">106.593</text>
<rect x="1607" y="334" width="41" height="11" fill="#0000ff" /><text x="1611" y="343.4" font-family="Liberation Sans, sans-serif" font-size="9.2" fill="#fff">106.098</text>
<polygon points="0,40.2 6.4,40.2 3.2,36.6" fill="#000"/>
<text x="11.5" y="40.7" font-family="Liberation Sans, sans-serif" font-size="9.1" fill="#000" textLength="63" lengthAdjust="spacingAndGlyphs">USDJPY-,Daily</text>
<text x="81.4" y="40.7" font-family="Liberation Sans, sans-serif" font-size="9.15" fill="#000">107.505 107.615 106.986 107.240</text>
<polygon points="1374,30 1383,30 1378.5,35" fill="#c0c0c0"/>
<g shape-rendering="crispEdges"><rect x="4" y="639" width="1" height="4" fill="#c0c0c0" /><rect x="12" y="637" width="1" height="6" fill="#c0c0c0" /><rect x="20" y="632" width="1" height="11" fill="#c0c0c0" /><rect x="28" y="629" width="1" height="14" fill="#c0c0c0" /><rect x="36" y="624" width="1" height="19" fill="#c0c0c0" /><rect x="44" y="621" width="1" height="22" fill="#c0c0c0" /><rect x="52" y="620" width="1" height="23" fill="#c0c0c0" /><rect x="60" y="620" width="1" height="23" fill="#c0c0c0" /><rect x="68" y="620" width="1" height="23" fill="#c0c0c0" /><rect x="76" y="620" width="1" height="23" fill="#c0c0c0" /><rect x="84" y="621" width="1" height="22" fill="#c0c0c0" /><rect x="92" y="620" width="1" height="23" fill="#c0c0c0" /><rect x="100" y="620" width="1" height="23" fill="#c0c0c0" /><rect x="108" y="620" width="1" height="23" fill="#c0c0c0" /><rect x="116" y="619" width="1" height="24" fill="#c0c0c0" /><rect x="124" y="619" width="1" height="24" fill="#c0c0c0" /><rect x="132" y="619" width="1" height="24" fill="#c0c0c0" /><rect x="140" y="619" width="1" height="24" fill="#c0c0c0" /><rect x="148" y="626" width="1" height="17" fill="#c0c0c0" /><rect x="156" y="629" width="1" height="14" fill="#c0c0c0" /><rect x="164" y="631" width="1" height="12" fill="#c0c0c0" /><rect x="172" y="631" width="1" height="12" fill="#c0c0c0" /><rect x="180" y="628" width="1" height="15" fill="#c0c0c0" /><rect x="188" y="627" width="1" height="16" fill="#c0c0c0" /><rect x="196" y="625" width="1" height="18" fill="#c0c0c0" /><rect x="204" y="624" width="1" height="19" fill="#c0c0c0" /><rect x="212" y="623" width="1" height="20" fill="#c0c0c0" /><rect x="220" y="624" width="1" height="19" fill="#c0c0c0" /><rect x="228" y="624" width="1" height="19" fill="#c0c0c0" /><rect x="236" y="625" width="1" height="18" fill="#c0c0c0" /><rect x="244" y="630" width="1" height="13" fill="#c0c0c0" /><rect x="252" y="631" width="1" height="12" fill="#c0c0c0" /><rect x="260" y="633" width="1" height="10" fill="#c0c0c0" /><rect x="268" y="634" width="1" height="9" fill="#c0c0c0" /><rect x="276" y="637" width="1" height="6" fill="#c0c0c0" /><rect x="284" y="639" width="1" height="4" fill="#c0c0c0" /><rect x="292" y="640" width="1" height="3" fill="#c0c0c0" /><rect x="300" y="640" width="1" height="3" fill="#c0c0c0" /><rect x="308" y="640" width="1" height="3" fill="#c0c0c0" /><rect x="316" y="638" width="1" height="5" fill="#c0c0c0" /><rect x="324" y="636" width="1" height="7" fill="#c0c0c0" /><rect x="332" y="634" width="1" height="9" fill="#c0c0c0" /><rect x="340" y="631" width="1" height="12" fill="#c0c0c0" /><rect x="348" y="629" width="1" height="14" fill="#c0c0c0" /><rect x="356" y="627" width="1" height="16" fill="#c0c0c0" /><rect x="364" y="629" width="1" height="14" fill="#c0c0c0" /><rect x="372" y="632" width="1" height="11" fill="#c0c0c0" /><rect x="380" y="635" width="1" height="8" fill="#c0c0c0" /><rect x="388" y="637" width="1" height="6" fill="#c0c0c0" /><rect x="396" y="640" width="1" height="3" fill="#c0c0c0" /><rect x="404" y="641" width="1" height="2" fill="#c0c0c0" /><rect x="412" y="642" width="1" height="1" fill="#c0c0c0" /><rect x="428" y="642" width="1" height="2" fill="#c0c0c0" /><rect x="436" y="641" width="1" height="2" fill="#c0c0c0" /><rect x="444" y="640" width="1" height="3" fill="#c0c0c0" /><rect x="452" y="637" width="1" height="6" fill="#c0c0c0" /><rect x="460" y="634" width="1" height="9" fill="#c0c0c0" /><rect x="468" y="632" width="1" height="11" fill="#c0c0c0" /><rect x="476" y="631" width="1" height="12" fill="#c0c0c0" /><rect x="484" y="631" width="1" height="12" fill="#c0c0c0" /><rect x="492" y="630" width="1" height="13" fill="#c0c0c0" /><rect x="500" y="630" width="1" height="13" fill="#c0c0c0" /><rect x="508" y="631" width="1" height="12" fill="#c0c0c0" /><rect x="516" y="631" width="1" height="12" fill="#c0c0c0" /><rect x="524" y="631" width="1" height="12" fill="#c0c0c0" /><rect x="532" y="631" width="1" height="12" fill="#c0c0c0" /><rect x="540" y="632" width="1" height="11" fill="#c0c0c0" /><rect x="548" y="633" width="1" height="10" fill="#c0c0c0" /><rect x="556" y="637" width="1" height="6" fill="#c0c0c0" /><rect x="564" y="641" width="1" height="2" fill="#c0c0c0" /><rect x="572" y="642" width="1" height="1" fill="#c0c0c0" /><rect x="580" y="642" width="1" height="4" fill="#c0c0c0" /><rect x="588" y="642" width="1" height="9" fill="#c0c0c0" /><rect x="596" y="642" width="1" height="14" fill="#c0c0c0" /><rect x="604" y="642" width="1" height="15" fill="#c0c0c0" /><rect x="612" y="642" width="1" height="17" fill="#c0c0c0" /><rect x="620" y="642" width="1" height="14" fill="#c0c0c0" /><rect x="628" y="642" width="1" height="8" fill="#c0c0c0" /><rect x="636" y="642" width="1" height="3" fill="#c0c0c0" /><rect x="644" y="642" width="1" height="1" fill="#c0c0c0" /><rect x="652" y="637" width="1" height="6" fill="#c0c0c0" /><rect x="660" y="633" width="1" height="10" fill="#c0c0c0" /><rect x="668" y="630" width="1" height="13" fill="#c0c0c0" /><rect x="676" y="627" width="1" height="16" fill="#c0c0c0" /><rect x="684" y="624" width="1" height="19" fill="#c0c0c0" /><rect x="692" y="622" width="1" height="21" fill="#c0c0c0" /><rect x="700" y="621" width="1" height="22" fill="#c0c0c0" /><rect x="708" y="622" width="1" height="21" fill="#c0c0c0" /><rect x="716" y="624" width="1" height="19" fill="#c0c0c0" /><rect x="724" y="626" width="1" height="17" fill="#c0c0c0" /><rect x="732" y="630" width="1" height="13" fill="#c0c0c0" /><rect x="740" y="636" width="1" height="7" fill="#c0c0c0" /><rect x="748" y="640" width="1" height="3" fill="#c0c0c0" /><rect x="756" y="642" width="1" height="1" fill="#c0c0c0" /><rect x="764" y="642" width="1" height="1" fill="#c0c0c0" /><rect x="772" y="642" width="1" height="4" fill="#c0c0c0" /><rect x="780" y="642" width="1" height="8" fill="#c0c0c0" /><rect x="788" y="642" width="1" height="12" fill="#c0c0c0" /><rect x="796" y="642" width="1" height="13" fill="#c0c0c0" /><rect x="804" y="642" width="1" height="10" fill="#c0c0c0" /><rect x="812" y="642" width="1" height="4" fill="#c0c0c0" /><rect x="828" y="640" width="1" height="3" fill="#c0c0c0" /><rect x="836" y="639" width="1" height="4" fill="#c0c0c0" /><rect x="844" y="637" width="1" height="6" fill="#c0c0c0" /><rect x="852" y="635" width="1" height="8" fill="#c0c0c0" /><rect x="860" y="634" width="1" height="9" fill="#c0c0c0" /><rect x="868" y="633" width="1" height="10" fill="#c0c0c0" /><rect x="876" y="633" width="1" height="10" fill="#c0c0c0" /><rect x="884" y="633" width="1" height="10" fill="#c0c0c0" /><rect x="892" y="632" width="1" height="11" fill="#c0c0c0" /><rect x="900" y="632" width="1" height="11" fill="#c0c0c0" /><rect x="908" y="624" width="1" height="19" fill="#c0c0c0" /><rect x="916" y="614" width="1" height="29" fill="#c0c0c0" /><rect x="924" y="609" width="1" height="34" fill="#c0c0c0" /><rect x="932" y="605" width="1" height="38" fill="#c0c0c0" /><rect x="940" y="607" width="1" height="36" fill="#c0c0c0" /><rect x="948" y="612" width="1" height="31" fill="#c0c0c0" /><rect x="956" y="617" width="1" height="26" fill="#c0c0c0" /><rect x="964" y="623" width="1" height="20" fill="#c0c0c0" /><rect x="972" y="639" width="1" height="4" fill="#c0c0c0" /><rect x="980" y="642" width="1" height="9" fill="#c0c0c0" /><rect x="988" y="642" width="1" height="15" fill="#c0c0c0" /><rect x="996" y="642" width="1" height="26" fill="#c0c0c0" /><rect x="1004" y="642" width="1" height="32" fill="#c0c0c0" /><rect x="1012" y="642" width="1" height="45" fill="#c0c0c0" /><rect x="1020" y="642" width="1" height="60" fill="#c0c0c0" /><rect x="1028" y="642" width="1" height="79" fill="#c0c0c0" /><rect x="1036" y="642" width="1" height="97" fill="#c0c0c0" /><rect x="1044" y="642" width="1" height="99" fill="#c0c0c0" /><rect x="1052" y="642" width="1" height="102" fill="#c0c0c0" /><rect x="1060" y="642" width="1" height="104" fill="#c0c0c0" /><rect x="1068" y="642" width="1" height="84" fill="#c0c0c0" /><rect x="1076" y="642" width="1" height="75" fill="#c0c0c0" /><rect x="1084" y="642" width="1" height="71" fill="#c0c0c0" /><rect x="1092" y="642" width="1" height="59" fill="#c0c0c0" /><rect x="1100" y="642" width="1" height="45" fill="#c0c0c0" /><rect x="1108" y="642" width="1" height="15" fill="#c0c0c0" /><rect x="1116" y="637" width="1" height="6" fill="#c0c0c0" /><rect x="1124" y="624" width="1" height="19" fill="#c0c0c0" /><rect x="1132" y="612" width="1" height="31" fill="#c0c0c0" /><rect x="1140" y="601" width="1" height="42" fill="#c0c0c0" /><rect x="1148" y="594" width="1" height="49" fill="#c0c0c0" /><rect x="1156" y="599" width="1" height="44" fill="#c0c0c0" /><rect x="1164" y="611" width="1" height="32" fill="#c0c0c0" /><rect x="1172" y="623" width="1" height="20" fill="#c0c0c0" /><rect x="1180" y="629" width="1" height="14" fill="#c0c0c0" /><rect x="1188" y="637" width="1" height="6" fill="#c0c0c0" /><rect x="1196" y="642" width="1" height="1" fill="#c0c0c0" /><rect x="1204" y="642" width="1" height="3" fill="#c0c0c0" /><rect x="1212" y="642" width="1" height="3" fill="#c0c0c0" /><rect x="1228" y="639" width="1" height="4" fill="#c0c0c0" /><rect x="1236" y="637" width="1" height="6" fill="#c0c0c0" /><rect x="1244" y="636" width="1" height="7" fill="#c0c0c0" /><rect x="1252" y="638" width="1" height="5" fill="#c0c0c0" /><rect x="1260" y="640" width="1" height="3" fill="#c0c0c0" /><rect x="1268" y="641" width="1" height="2" fill="#c0c0c0" /><rect x="1276" y="642" width="1" height="9" fill="#c0c0c0" /><rect x="1284" y="642" width="1" height="10" fill="#c0c0c0" /><rect x="1292" y="642" width="1" height="10" fill="#c0c0c0" /><rect x="1300" y="642" width="1" height="12" fill="#c0c0c0" /><rect x="1308" y="642" width="1" height="14" fill="#c0c0c0" /><rect x="1316" y="642" width="1" height="14" fill="#c0c0c0" /><rect x="1324" y="642" width="1" height="14" fill="#c0c0c0" /><rect x="1332" y="642" width="1" height="14" fill="#c0c0c0" /><rect x="1340" y="642" width="1" height="14" fill="#c0c0c0" /><rect x="1348" y="642" width="1" height="14" fill="#c0c0c0" /><rect x="1356" y="642" width="1" height="15" fill="#c0c0c0" /><rect x="1364" y="642" width="1" height="16" fill="#c0c0c0" /></g>
<polyline points="0,638.5 2.5,639 12.7,641.5 25.4,641 38.1,637.2 50.8,633.4 63.6,628.3 76.3,624.5 89,621.2 101.7,619.9 114.4,619.4 139.8,619.4 152.5,620.7 178,624.5 190.7,625.8 216.1,626.3 254.2,625.3 266.9,627 279.7,629.6 292.4,632.1 305.1,634.7 317.8,636.4 330.5,636.4 343.2,635.4 355.9,634.2 368.6,632.6 386.4,631.6 396.6,632.6 419.5,635.2 422.5,636.6 435.3,638.9 453.1,639.7 470.8,637.9 488.6,635.3 506.4,632.5 521.7,630.8 534.4,630.3 552.2,630.3 562.4,631.5 580.2,635.8 592.9,639.2 603.1,644 613.2,648.1 628.5,651.1 643.7,651.1 656.4,649.3 674.2,642.2 686.9,636.6 699.7,630.8 712.4,626.9 722.5,624.9 735.3,624.4 750.5,626.4 770.8,632 783.6,638.4 796.3,644 806.4,646 819.2,647.8 839.5,646.8 842.5,646.5 852.7,644 865.4,640.2 878.1,636.6 890.8,634.1 906.1,632.8 916.3,629.5 929,625.2 941.7,620.1 954.4,616.8 967.1,615.5 977.3,616.3 987.5,621.9 997.6,630.8 1007.8,641.4 1018,653.6 1028.1,667.6 1035.8,680.3 1043.4,693.1 1053.6,705 1062.5,716.7 1071.4,722.3 1079,726.1 1087.9,728.6 1096.8,726.1 1104.4,719.7 1112,709.6 1119.7,698.1 1127.3,685.4 1134.9,671.4 1142.5,657.5 1148.9,646 1156.5,634.6 1165.4,623.1 1175.6,615.5 1183.2,613.5 1190.8,613.7 1201,618.1 1211.2,623.6 1221.4,630.8 1230.3,635.3 1232,635.2 1242.2,638.5 1252.3,640.5 1272.7,641 1282.8,642.3 1298.1,644.1 1308.3,647.4 1321,650.4 1333.7,653.7 1341.3,655.5 1354,656.3 1364.5,657" fill="none" stroke="#ff0000" stroke-width="1" stroke-dasharray="2.8,3.3"/>
<text x="0.5" y="596.5" font-family="Liberation Sans, sans-serif" font-size="9.3" fill="#000" textLength="133.4" lengthAdjust="spacingAndGlyphs">MACD(12,26,9) -0.2410 -0.2046</text>
<rect x="1606" y="586" width="1" height="1" fill="#000" />
<text x="1609" y="594.8" font-family="Liberation Sans, sans-serif" font-size="9.2" fill="#000">0.8034</text>
<rect x="1606" y="643" width="2" height="1" fill="#000" />
<text x="1609" y="646.4" font-family="Liberation Sans, sans-serif" font-size="9.2" fill="#000">0.00</text>
<rect x="1606" y="753" width="1" height="1" fill="#000" />
<text x="1609" y="751" font-family="Liberation Sans, sans-serif" font-size="9.2" fill="#000">-1.5784</text>
<line x1="3" y1="792.5" x2="1605" y2="792.5" stroke="#c0c0c0" stroke-width="1" stroke-dasharray="3,3" shape-rendering="crispEdges"/>
<line x1="3" y1="843.5" x2="1605" y2="843.5" stroke="#c0c0c0" stroke-width="1" stroke-dasharray="3,3" shape-rendering="crispEdges"/>
<line x1="3" y1="904.5" x2="1605" y2="904.5" stroke="#c0c0c0" stroke-width="1" stroke-dasharray="3,3" shape-rendering="crispEdges"/>
<polyline points="0,839.5 4.5,832.6 12.5,822.5 20.5,823.7 28.5,825.5 36.5,818.1 44.5,821.2 52.5,824.2 60.5,828.1 68.5,829.6 76.5,825.5 84.5,829.3 92.5,826.3 100.5,826.3 108.5,824.5 116.5,823.2 124.5,818.1 132.5,821.9 140.5,825.5 148.5,852.2 156.5,844.6 164.5,845.8 172.5,832.6 180.5,823.2 188.5,830.1 196.5,823.2 204.5,826.3 212.5,825.5 220.5,830.1 228.5,832.6 236.5,839 244.5,848.4 252.5,838.2 260.5,842 268.5,843.6 276.5,849.2 284.5,849.7 292.5,845.8 300.5,843.3 308.5,840.3 316.5,831.4 324.5,828.3 332.5,819.9 340.5,816.1 348.5,818.1 356.5,817.4 364.5,840.3 372.5,851.2 380.5,845.3 388.5,849.2 396.5,854.7 404.5,851.7 412.5,852.5 420.5,844.6 428.5,853.5 436.5,827 444.5,830.1 452.5,828.1 460.5,823.2 468.5,826.3 476.5,825.5 484.5,831.4 492.5,829.3 500.5,828.3 508.5,833.1 516.5,835.7 524.5,834.4 532.5,828.3 540.5,835.2 548.5,833.1 556.5,857.3 564.5,865.2 572.5,859.3 580.5,864.9 588.5,877.1 596.5,878.9 604.5,859.3 612.5,869.5 620.5,839.5 628.5,830.6 636.5,829.3 644.5,829.3 652.5,820.4 660.5,825.5 668.5,824.2 676.5,818.1 684.5,820.4 692.5,819.2 700.5,819.2 708.5,829.3 716.5,834.4 724.5,841 732.5,850.4 740.5,861.1 748.5,857.3 756.5,850.4 764.5,854.2 772.5,857.3 780.5,869.5 788.5,868.2 796.5,859.3 804.5,836.4 812.5,828.3 820.5,826.3 828.5,832.1 836.5,835.2 844.5,831.9 852.5,830.1 860.5,830.1 868.5,833.4 876.5,833.4 884.5,832.1 892.5,831.4 900.5,828.3 908.5,802.6 916.5,793.2 924.5,805.9 932.5,807.2 940.5,828.1 948.5,840.3 956.5,839 964.5,853.5 972.5,875.3 980.5,877.6 988.5,861.4 996.5,875.3 1004.5,864.4 1012.5,875.8 1020.5,882.2 1028.5,888.1 1036.5,892.4 1044.5,868.2 1052.5,871.5 1060.5,869 1068.5,839.5 1076.5,850.4 1084.5,852.5 1092.5,843.3 1100.5,837.7 1108.5,821.2 1116.5,823.2 1124.5,829.3 1132.5,826.3 1140.5,825.5 1148.5,827 1156.5,840.8 1164.5,849.2 1172.5,852.5 1180.5,847.4 1188.5,851.2 1196.5,852.5 1204.5,846.6 1212.5,844.1 1220.5,840.3 1228.5,837.2 1236.5,841.5 1244.5,839.5 1252.5,844.1 1260.5,845.8 1268.5,852.2 1276.5,856.3 1284.5,850.9 1292.5,847.4 1300.5,850.4 1308.5,849.7 1316.5,849.7 1324.5,849.7 1332.5,847.4 1340.5,850.4 1348.5,853.5 1356.5,851.7 1364.5,854.7" fill="none" stroke="#1e90ff" stroke-width="1" />
<text x="0.5" y="768.5" font-family="Liberation Sans, sans-serif" font-size="9.3" fill="#000" textLength="67.6" lengthAdjust="spacingAndGlyphs">RSI(14) 43.2010</text>
<rect x="1606" y="758" width="1" height="1" fill="#000" />
<text x="1609" y="766.9" font-family="Liberation Sans, sans-serif" font-size="9.2" fill="#000">100</text>
<rect x="1606" y="792" width="2" height="1" fill="#000" />
<text x="1609" y="795.7" font-family="Liberation Sans, sans-serif" font-size="9.2" fill="#000">80</text>
<rect x="1606" y="843" width="2" height="1" fill="#000" />
<text x="1609" y="846.9" font-family="Liberation Sans, sans-serif" font-size="9.2" fill="#000">50</text>
<rect x="1606" y="904" width="2" height="1" fill="#000" />
<text x="1609" y="907.9" font-family="Liberation Sans, sans-serif" font-size="9.2" fill="#000">15</text>
<rect x="1606" y="929" width="1" height="1" fill="#000" />
<text x="1609" y="926.8" font-family="Liberation Sans, sans-serif" font-size="9.2" fill="#000">0</text>
<rect x="-4" y="931" width="1" height="3" fill="#000" />
<text x="3" y="942.7" font-family="Liberation Sans, sans-serif" font-size="9.5" fill="#000">Oct 2019</text>
<rect x="60" y="931" width="1" height="3" fill="#000" />
<text x="59" y="942.7" font-family="Liberation Sans, sans-serif" font-size="9.5" fill="#000">18 Oct 2019</text>
<rect x="124" y="931" width="1" height="3" fill="#000" />
<text x="123" y="942.7" font-family="Liberation Sans, sans-serif" font-size="9.5" fill="#000">28 Oct 2019</text>
<rect x="188" y="931" width="1" height="3" fill="#000" />
<text x="187" y="942.7" font-family="Liberation Sans, sans-serif" font-size="9.5" fill="#000">6 Nov 2019</text>
<rect x="252" y="931" width="1" height="3" fill="#000" />
<text x="251" y="942.7" font-family="Liberation Sans, sans-serif" font-size="9.5" fill="#000">15 Nov 2019</text>
<rect x="316" y="931" width="1" height="3" fill="#000" />
<text x="315" y="942.7" font-family="Liberation Sans, sans-serif" font-size="9.5" fill="#000">25 Nov 2019</text>
<rect x="380" y="931" width="1" height="3" fill="#000" />
<text x="379" y="942.7" font-family="Liberation Sans, sans-serif" font-size="9.5" fill="#000">4 Dec 2019</text>
<rect x="444" y="931" width="1" height="3" fill="#000" />
<text x="443" y="942.7" font-family="Liberation Sans, sans-serif" font-size="9.5" fill="#000">13 Dec 2019</text>
<rect x="508" y="931" width="1" height="3" fill="#000" />
<text x="507" y="942.7" font-family="Liberation Sans, sans-serif" font-size="9.5" fill="#000">23 Dec 2019</text>
<rect x="572" y="931" width="1" height="3" fill="#000" />
<text x="571" y="942.7" font-family="Liberation Sans, sans-serif" font-size="9.5" fill="#000">1 Jan 2020</text>
<rect x="636" y="931" width="1" height="3" fill="#000" />
<text x="635" y="942.7" font-family="Liberation Sans, sans-serif" font-size="9.5" fill="#000">10 Jan 2020</text>
<rect x="700" y="931" width="1" height="3" fill="#000" />
<text x="699" y="942.7" font-family="Liberation Sans, sans-serif" font-size="9.5" fill="#000">20 Jan 2020</text>
<rect x="764" y="931" width="1" height="3" fill="#000" />
<text x="763" y="942.7" font-family="Liberation Sans, sans-serif" font-size="9.5" fill="#000">29 Jan 2020</text>
<rect x="828" y="931" width="1" height="3" fill="#000" />
<text x="827" y="942.7" font-family="Liberation Sans, sans-serif" font-size="9.5" fill="#000">7 Feb 2020</text>
<rect x="892" y="931" width="1" height="3" fill="#000" />
<text x="891" y="942.7" font-family="Liberation Sans, sans-serif" font-size="9.5" fill="#000">17 Feb 2020</text>
<rect x="956" y="931" width="1" height="3" fill="#000" />
<text x="955" y="942.7" font-family="Liberation Sans, sans-serif" font-size="9.5" fill="#000">26 Feb 2020</text>
<rect x="1020" y="931" width="1" height="3" fill="#000" />
<text x="1019" y="942.7" font-family="Liberation Sans, sans-serif" font-size="9.5" fill="#000">6 Mar 2020</text>
<rect x="1084" y="931" width="1" height="3" fill="#000" />
<text x="1083" y="942.7" font-family="Liberation Sans, sans-serif" font-size="9.5" fill="#000">16 Mar 2020</text>
<rect x="1148" y="931" width="1" height="3" fill="#000" />
<text x="1147" y="942.7" font-family="Liberation Sans, sans-serif" font-size="9.5" fill="#000">25 Mar 2020</text>
<rect x="1212" y="931" width="1" height="3" fill="#000" />
<text x="1211" y="942.7" font-family="Liberation Sans, sans-serif" font-size="9.5" fill="#000">3 Apr 2020</text>
<rect x="1276" y="931" width="1" height="3" fill="#000" />
<text x="1275" y="942.7" font-family="Liberation Sans, sans-serif" font-size="9.5" fill="#000">14 Apr 2020</text>
<rect x="1340" y="931" width="1" height="3" fill="#000" />
<text x="1339" y="942.7" font-family="Liberation Sans, sans-serif" font-size="9.5" fill="#000">23 Apr 2020</text>
<text x="1412.5" y="242" font-size="32.5" font-weight="bold" fill="#062806" transform="translate(1.3,1.3)" textLength="162.5" lengthAdjust="spacingAndGlyphs" style="font-family:'Liberation Serif','Noto Serif CJK SC',serif">多空转折点</text>
<text x="1412.5" y="242" font-size="32.5" font-weight="bold" fill="#00ff00" textLength="162.5" lengthAdjust="spacingAndGlyphs" style="font-family:'Liberation Serif','Noto Serif CJK SC',serif">多空转折点</text>
<text x="-4.3" y="16.2" font-size="11.8" fill="#000" textLength="35.4" lengthAdjust="spacingAndGlyphs" style="font-family:'Liberation Sans','Noto Sans CJK SC',sans-serif">新订单</text>
<text x="148.3" y="16.2" font-size="11.5" fill="#000" textLength="45.6" lengthAdjust="spacingAndGlyphs" style="font-family:'Liberation Sans','Noto Sans CJK SC',sans-serif">自动交易</text>
<g id="oneclick">
<rect x="0" y="49" width="218" height="64" fill="#fff"/>
<rect x="0" y="49" width="51" height="25" fill="url(#gBtn)"/>
<rect x="166" y="49" width="52" height="25" fill="url(#gBtn)"/>
<rect x="0" y="73" width="108" height="40" fill="url(#gPrice)"/>
<rect x="110" y="73" width="108" height="40" fill="url(#gPrice)"/>
<rect x="0" y="49" width="51" height="1" fill="#3a3ae0"/>
<rect x="166" y="49" width="52" height="1" fill="#3a3ae0"/>
<rect x="50" y="49" width="1" height="24" fill="#3030d0"/>
<rect x="166" y="49" width="1" height="24" fill="#3030d0"/>
<rect x="3" y="72" width="44" height="1" fill="#1414b4"/>
<rect x="3" y="73" width="44" height="1" fill="#7a7aff"/>
<rect x="170" y="72" width="44" height="1" fill="#1414b4"/>
<rect x="170" y="73" width="44" height="1" fill="#7a7aff"/>
<!-- volume box -->
<rect x="53.5" y="49.5" width="110" height="21" fill="#fff" stroke="#ababab"/>
<rect x="54.5" y="50.5" width="19" height="19" fill="url(#gSpin)" stroke="#d9d9d9"/>
<rect x="74" y="50" width="1" height="20" fill="#ababab"/>
<rect x="143.5" y="50.5" width="19" height="19" fill="url(#gSpin)" stroke="#d9d9d9"/>
<rect x="142" y="50" width="1" height="20" fill="#ababab"/>
<polygon points="61,58 66.4,58 63.7,61.2" fill="#4f63b4"/>
<polygon points="150,61 155.4,61 152.7,57.8" fill="#4f63b4"/>
<text x="138.9" y="64.2" text-anchor="end" font-size="12.2" fill="#111">1.00</text>
<text x="11.4" y="65" font-size="12" fill="#ffffff" textLength="26" lengthAdjust="spacingAndGlyphs">SELL</text>
<text x="179.6" y="65" font-size="12" fill="#ffffff" textLength="23.4" lengthAdjust="spacingAndGlyphs">BUY</text>
<!-- prices -->
<text x="22.2" y="103.9" font-size="12.3" font-weight="bold" fill="#fff" textLength="20.6" lengthAdjust="spacingAndGlyphs">107</text>
<text x="45.8" y="103.9" font-size="34.6" fill="#fff" textLength="36.4" lengthAdjust="spacingAndGlyphs">24</text>
<text x="85.9" y="88" font-size="11.4" font-weight="bold" fill="#fff" textLength="7.4" lengthAdjust="spacingAndGlyphs">0</text>
<text x="132.5" y="103.9" font-size="12.3" font-weight="bold" fill="#fff" textLength="20.6" lengthAdjust="spacingAndGlyphs">107</text>
<text x="156.8" y="103.9" font-size="34.6" fill="#fff" textLength="36.4" lengthAdjust="spacingAndGlyphs">26</text>
<text x="197" y="88" font-size="11.4" font-weight="bold" fill="#fff" textLength="7.4" lengthAdjust="spacingAndGlyphs">1</text>
</g>

</svg>
</body></html>
